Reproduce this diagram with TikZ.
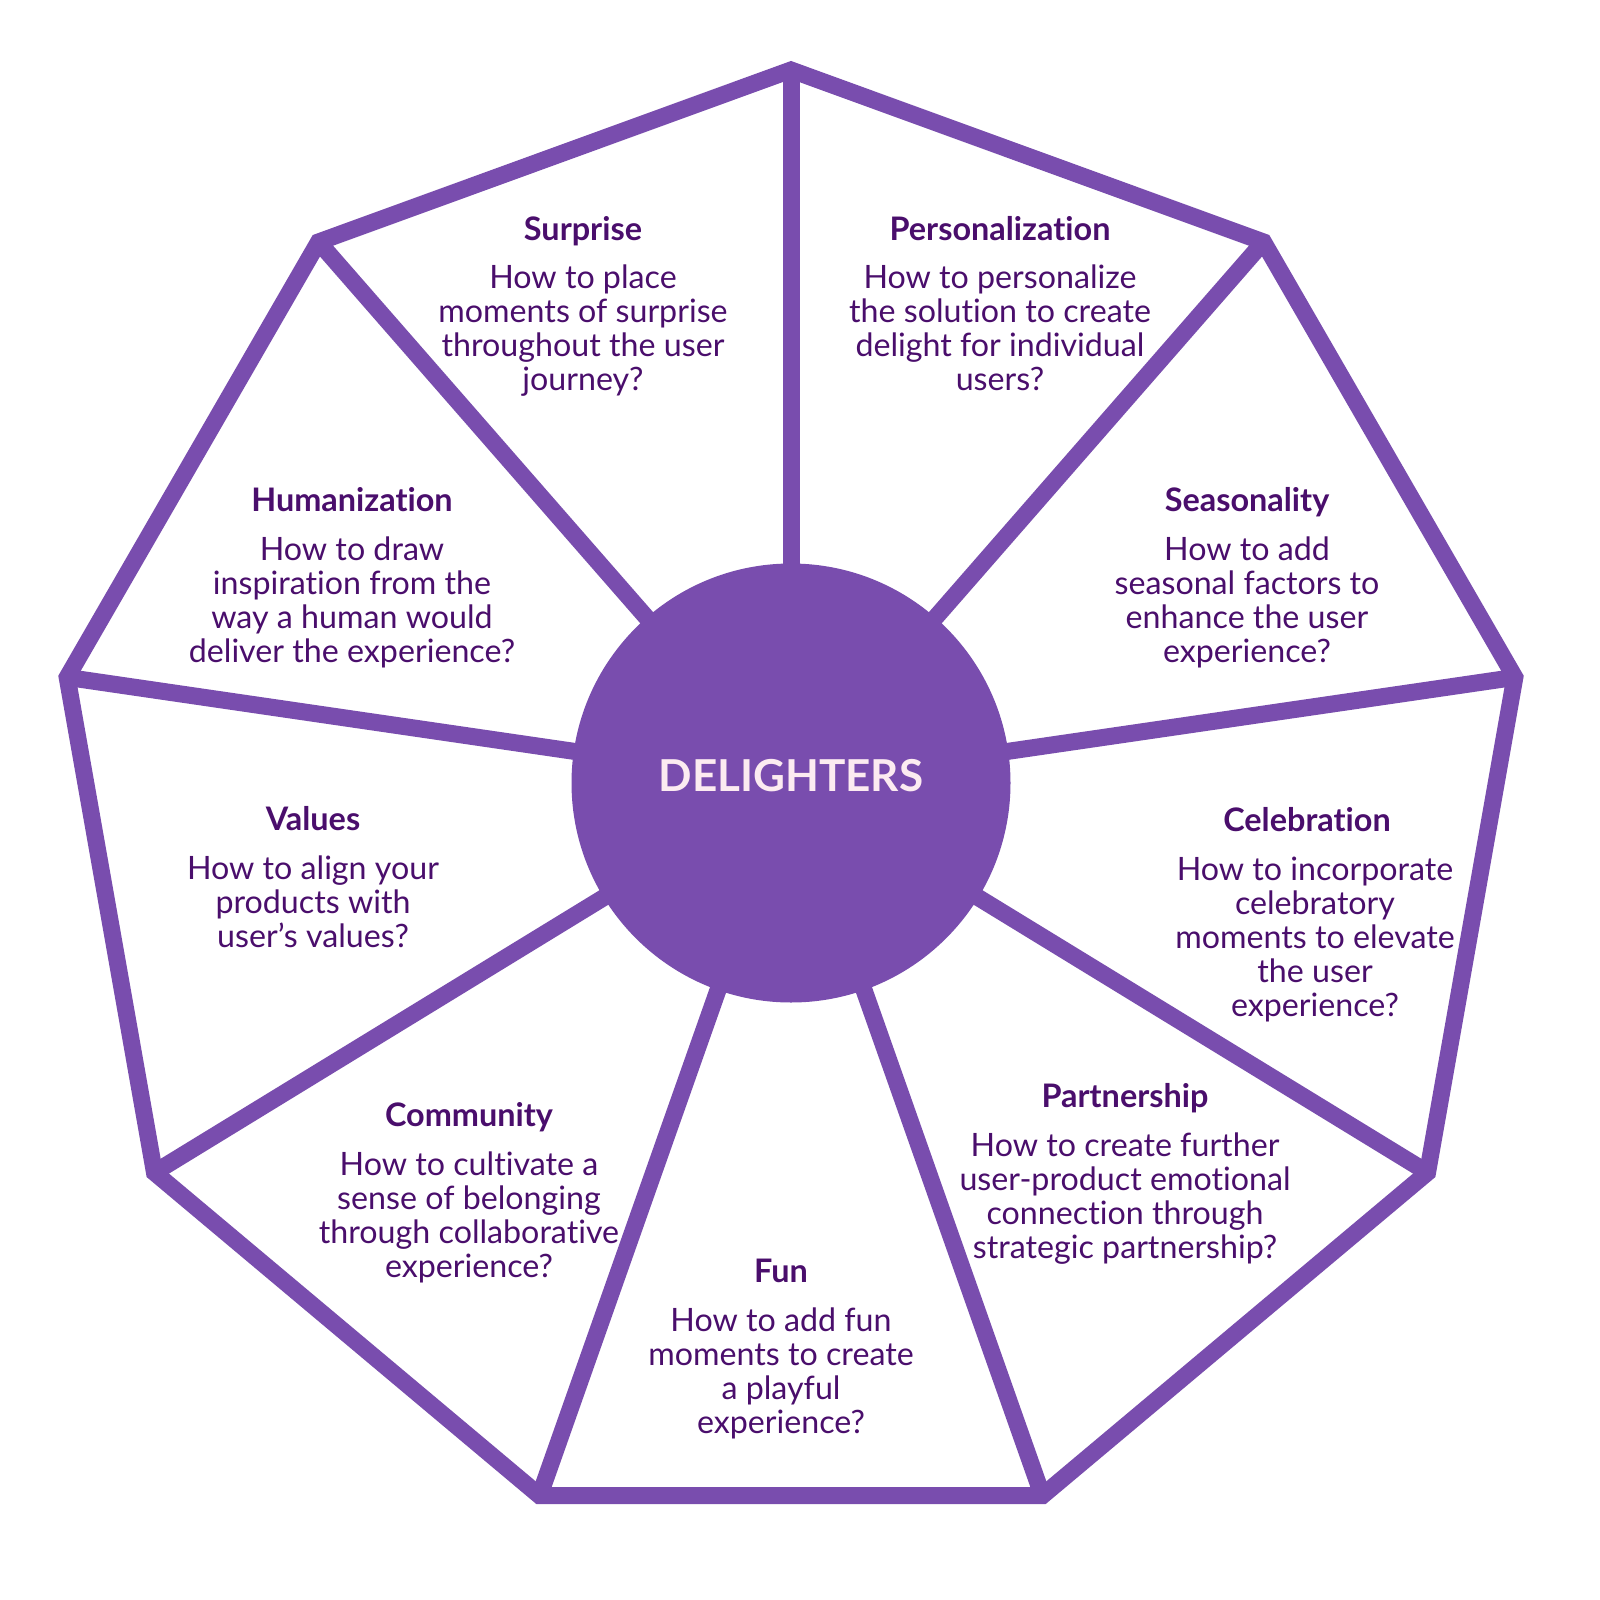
\documentclass[tikz,border=0pt]{standalone}
\usepackage{fontspec}
\setmainfont{Lato}[Ligatures={NoCommon}]
\definecolor{wheel}{RGB}{121,77,174}
\definecolor{ink}{RGB}{74,14,108}
\definecolor{pale}{RGB}{252,235,241}
\begin{document}
\begin{tikzpicture}[x=1pt,y=-1pt,
  rim/.style={draw=wheel,line width=17pt,line join=miter},
  spoke/.style={draw=wheel,line width=17pt},
  headtext/.style={anchor=base,inner sep=0pt,text=ink,font=\fontsize{32.4}{34.2}\selectfont\bfseries},
  bodytext/.style={anchor=base,inner sep=0pt,text=ink,align=center,font=\fontsize{32.2}{34.2}\selectfont}]
\useasboundingbox (0,0) rectangle (1600,1600);
\fill[white] (0,0) rectangle (1600,1600);
% nonagon vertices
\foreach \k in {0,...,8}{
  \coordinate (v\k) at ({791+735*cos(90-40*\k)},{805-735*sin(90-40*\k)});
}
\node[circle,fill=wheel,minimum size=439pt,inner sep=0pt] (core) at (791,783) {};
\foreach \k in {0,...,8}{
  \draw[spoke] (v\k) -- (core.center);
}
\draw[rim] (v0) -- (v1) -- (v2) -- (v3) -- (v4) -- (v5) -- (v6) -- (v7) -- (v8) -- cycle;
\node[anchor=base,inner sep=0pt,text=pale,font=\fontsize{44}{50}\selectfont\bfseries] (hub) at (791,791) {DELIGHTERS};
% texts (body anchor = baseline of last line)
\node[headtext] (t1) at (583,240) {Surprise};
\node[bodytext] (b1) at (583,390.6) {How to place\\moments of surprise\\throughout the user\\journey?};
\node[headtext] (t2) at (1000,240) {Personalization};
\node[bodytext] (b2) at (1000,390.6) {How to personalize\\the solution to create\\delight for individual\\users?};
\node[headtext] (t3) at (352,511) {Humanization};
\node[bodytext] (b3) at (352,662.6) {How to draw\\inspiration from the\\way a human would\\deliver the experience?};
\node[headtext] (t4) at (1247,511) {Seasonality};
\node[bodytext] (b4) at (1247,662.6) {How to add\\seasonal factors to\\enhance the user\\experience?};
\node[headtext] (t5) at (313,830) {Values};
\node[bodytext] (b5) at (313,947.4) {How to align your\\products with\\user’s values?};
\node[headtext] (t6) at (1307,831) {Celebration};
\node[bodytext] (b6) at (1315,1016.8) {How to incorporate\\celebratory\\moments to elevate\\the user\\experience?};
\node[headtext] (t7) at (469,1126) {Community};
\node[bodytext] (b7) at (469,1277.6) {How to cultivate a\\sense of belonging\\through collaborative\\experience?};
\node[headtext] (t8) at (1125,1107) {Partnership};
\node[bodytext] (b8) at (1125,1258.6) {How to create further\\user-product emotional\\connection through\\strategic partnership?};
\node[headtext] (t9) at (781,1282) {Fun};
\node[bodytext] (b9) at (781,1433.6) {How to add fun\\moments to create\\a playful\\experience?};
\end{tikzpicture}
\end{document}
